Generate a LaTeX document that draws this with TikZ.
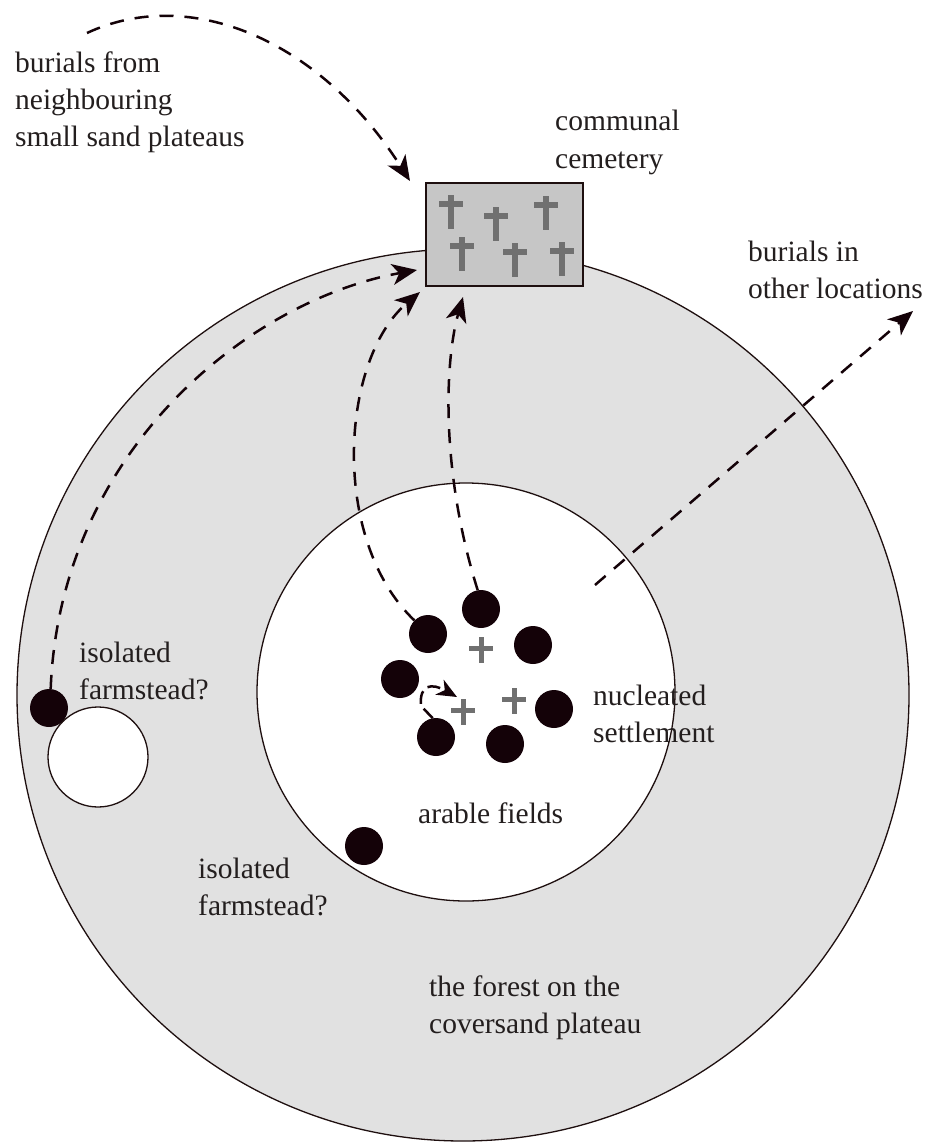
\documentclass[tikz,border=0pt]{standalone}
\usepackage{fontspec}
\setmainfont{Liberation Serif}
\usetikzlibrary{arrows.meta}
\definecolor{dotcol}{RGB}{20,2,8}
\definecolor{linecol}{RGB}{30,15,15}
\definecolor{forestcol}{RGB}{225,225,225}
\definecolor{cemfill}{RGB}{198,198,198}
\definecolor{crosscol}{RGB}{112,112,112}
\definecolor{txtcol}{RGB}{35,30,30}
\begin{document}
\begin{tikzpicture}[x=1pt,y=-1pt,
  dot/.style={circle,fill=dotcol,minimum size=38pt,inner sep=0pt},
  ring/.style={circle,draw=linecol,line width=1.3pt,inner sep=0pt},
  route/.style={draw=dotcol,line width=2.5pt,dash pattern=on 14pt off 11pt,-{Stealth[length=25pt,width=21pt,inset=7pt]}},
  lbl/.style={font=\fontsize{29.5}{37}\selectfont,text=txtcol,align=left,inner sep=0pt,anchor=base west},
  plusx/.pic={\fill[crosscol] (-12,-4.5) rectangle (12,0.5); \fill[crosscol] (-2.5,-13) rectangle (2.5,13);},
  latinx/.pic={\fill[crosscol] (-3,-17) rectangle (3,17); \fill[crosscol] (-12,-11) rectangle (12,-5);}
]
\useasboundingbox (0,0) rectangle (931,1142);
% zones
\node[ring,fill=forestcol,minimum size=892pt] (forest) at (463,695) {};
\node[ring,fill=white,minimum size=418pt] (fields) at (466,692) {};
% cemetery
\node[draw=linecol,line width=1.3pt,fill=cemfill,minimum width=157pt,minimum height=103pt,inner sep=0pt] (cem) at (504.5,234.5) {};
\foreach \p in {(451,212),(496,224),(546,213),(462,254),(515,260),(562,259)} \pic at \p {latinx};
% isolated farmstead (left)
\node[dot] (f1) at (49,708) {};
\node[ring,fill=white,minimum size=100pt] (clear) at (98,757) {};
% settlement dots
\node[dot] (d1) at (428,634) {};
\node[dot] (d2) at (481,609) {};
\node[dot] (d3) at (533,645) {};
\node[dot] (d4) at (400,679) {};
\node[dot] (d5) at (554,709) {};
\node[dot] (d6) at (436,737) {};
\node[dot] (d7) at (505,744) {};
\node[dot] (f2) at (364,846) {};
% crosses in settlement
\pic at (481,650) {plusx};
\pic at (514,701) {plusx};
\coordinate (c3) at (463,712);
\pic at (c3) {plusx};
% connectors
\coordinate (a1) at (410,181);
\coordinate (s1) at (87,33);
\draw[route] (s1) .. controls (190,-15) and (320,40) .. (a1);
\coordinate (a2) at (417,270);
\draw[route] (f1.85) .. controls (60,450) and (250,300) .. (a2);
\coordinate (a3) at (420,292);
\draw[route] (d1.135) .. controls (330,540) and (340,360) .. (a3);
\coordinate (a4) at (463,297);
\draw[route] (d2.100) .. controls (440,470) and (445,360) .. (a4);
\coordinate (s5) at (595,585);
\coordinate (a5) at (913,311);
\draw[route] (s5) -- (a5);
\coordinate (a6) at (457,697);
\draw[route,-{Stealth[length=20pt,width=17pt,inset=6pt]},dash pattern=on 13pt off 6pt] (d6.100) -- (421,706) .. controls (419,684) and (432,683) .. (a6);
% labels (anchor = baseline of last line)
\node[lbl] (tfrom) at (15,147) {burials from\\neighbouring\\small sand plateaus};
\node[lbl] (tcem) at (555,168) {communal\\cemetery};
\node[lbl] (tother) at (748,298) {burials in\\other locations};
\node[lbl] (tiso1) at (79,699) {isolated\\farmstead?};
\node[lbl] (tnuc) at (593,742) {nucleated\\settlement};
\node[lbl] (tara) at (418,823) {arable fields};
\node[lbl] (tiso2) at (198,915) {isolated\\farmstead?};
\node[lbl] (tfor) at (429,1033) {the forest on the\\coversand plateau};
\end{tikzpicture}
\end{document}
